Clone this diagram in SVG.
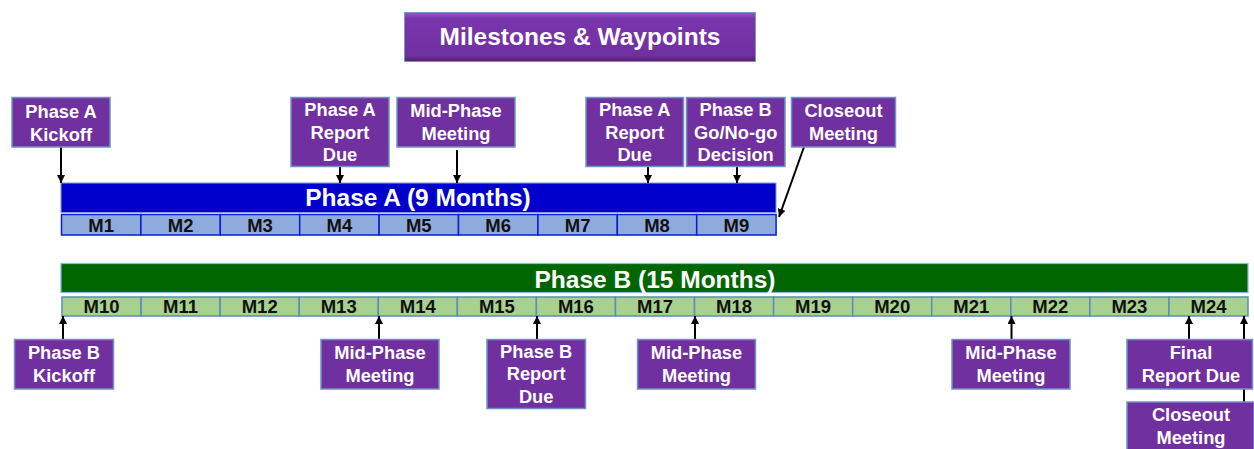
<svg xmlns="http://www.w3.org/2000/svg" width="1254" height="449" viewBox="0 0 1254 449">
<style>
.box{fill:#7030A0;stroke:#6F93C6;stroke-width:1.5}
.bt{font-family:"Liberation Sans",Arial,sans-serif;font-weight:bold;font-size:18.3px;fill:#fff;text-anchor:middle}
.mt{font-family:"Liberation Sans",Arial,sans-serif;font-weight:bold;font-size:18.5px;fill:#111;text-anchor:middle}
.pt{font-family:"Liberation Sans",Arial,sans-serif;font-weight:bold;font-size:24.5px;fill:#fff;text-anchor:middle}
.ma{fill:#8FAADC;stroke:#0A1ECC;stroke-width:1.5}
.mb{fill:#A9D18E;stroke:#5B8DB8;stroke-width:1.5}
.con{stroke:#000;stroke-width:2;fill:none;marker-end:url(#ah)}
</style>
<defs>
<marker id="ah" viewBox="0 0 10 10" refX="10" refY="5" markerWidth="8" markerHeight="8" markerUnits="userSpaceOnUse" orient="auto">
<path d="M0,0 L10,5 L0,10 z" fill="#000"/>
</marker>
<linearGradient id="tg" x1="0" y1="0" x2="0" y2="1">
<stop offset="0" stop-color="#9A55CC"/>
<stop offset="0.12" stop-color="#7A36AE"/>
<stop offset="0.88" stop-color="#7030A0"/>
<stop offset="1" stop-color="#4E2070"/>
</linearGradient>
</defs>
<rect width="1254" height="449" fill="#fff"/>

<g id="title">
<rect x="404.5" y="12.5" width="351" height="49" fill="url(#tg)" stroke="#7F95B8" stroke-width="1"/>
<text x="580" y="45" class="pt">Milestones &amp; Waypoints</text>
</g>

<g id="phaseA">
<rect x="61" y="183" width="715" height="29.5" fill="#0000CC" stroke="#7F9CE0" stroke-width="1"/>
<text x="418" y="206" class="pt">Phase A (9 Months)</text>
<rect class="ma" x="61.5" y="214.5" width="79.4" height="20.5"/>
<rect class="ma" x="140.9" y="214.5" width="79.4" height="20.5"/>
<rect class="ma" x="220.3" y="214.5" width="79.4" height="20.5"/>
<rect class="ma" x="299.7" y="214.5" width="79.4" height="20.5"/>
<rect class="ma" x="379.1" y="214.5" width="79.4" height="20.5"/>
<rect class="ma" x="458.5" y="214.5" width="79.4" height="20.5"/>
<rect class="ma" x="537.9" y="214.5" width="79.4" height="20.5"/>
<rect class="ma" x="617.3" y="214.5" width="79.4" height="20.5"/>
<rect class="ma" x="696.7" y="214.5" width="79.4" height="20.5"/>
<text class="mt" y="232"><tspan x="101.2">M1</tspan><tspan x="180.6">M2</tspan><tspan x="260">M3</tspan><tspan x="339.4">M4</tspan><tspan x="418.8">M5</tspan><tspan x="498.2">M6</tspan><tspan x="577.6">M7</tspan><tspan x="657">M8</tspan><tspan x="736.4">M9</tspan></text>
</g>

<g id="phaseB">
<rect x="61" y="263.5" width="1187" height="29" fill="#006600" stroke="#8EB4E3" stroke-width="1.2"/>
<text x="655" y="288" class="pt">Phase B (15 Months)</text>
<rect class="mb" x="62" y="297" width="79.07" height="19"/>
<rect class="mb" x="141.07" y="297" width="79.07" height="19"/>
<rect class="mb" x="220.13" y="297" width="79.07" height="19"/>
<rect class="mb" x="299.2" y="297" width="79.07" height="19"/>
<rect class="mb" x="378.27" y="297" width="79.07" height="19"/>
<rect class="mb" x="457.33" y="297" width="79.07" height="19"/>
<rect class="mb" x="536.4" y="297" width="79.07" height="19"/>
<rect class="mb" x="615.47" y="297" width="79.07" height="19"/>
<rect class="mb" x="694.53" y="297" width="79.07" height="19"/>
<rect class="mb" x="773.6" y="297" width="79.07" height="19"/>
<rect class="mb" x="852.67" y="297" width="79.07" height="19"/>
<rect class="mb" x="931.73" y="297" width="79.07" height="19"/>
<rect class="mb" x="1010.8" y="297" width="79.07" height="19"/>
<rect class="mb" x="1089.87" y="297" width="79.07" height="19"/>
<rect class="mb" x="1168.93" y="297" width="79.07" height="19"/>
<text class="mt" y="313"><tspan x="101.5">M10</tspan><tspan x="180.6">M11</tspan><tspan x="259.7">M12</tspan><tspan x="338.7">M13</tspan><tspan x="417.8">M14</tspan><tspan x="496.9">M15</tspan><tspan x="575.9">M16</tspan><tspan x="655">M17</tspan><tspan x="734.1">M18</tspan><tspan x="813.1">M19</tspan><tspan x="892.2">M20</tspan><tspan x="971.3">M21</tspan><tspan x="1050.3">M22</tspan><tspan x="1129.4">M23</tspan><tspan x="1208.5">M24</tspan></text>
</g>

<g id="connectors">
<line class="con" x1="61" y1="147" x2="61" y2="183"/>
<line class="con" x1="340" y1="167" x2="340" y2="183"/>
<line class="con" x1="457" y1="150" x2="457" y2="183"/>
<line class="con" x1="648" y1="167" x2="648" y2="183"/>
<line class="con" x1="737" y1="167" x2="737" y2="183"/>
<line class="con" x1="804" y1="147" x2="779" y2="217"/>
<line class="con" x1="63" y1="339" x2="63" y2="316"/>
<line class="con" x1="379" y1="339" x2="379" y2="316"/>
<line class="con" x1="537" y1="339" x2="537" y2="316"/>
<line class="con" x1="695" y1="339" x2="695" y2="316"/>
<line class="con" x1="1011.5" y1="339" x2="1011.5" y2="316"/>
<line class="con" x1="1189" y1="339" x2="1189" y2="316"/>
<line class="con" x1="1244" y1="402" x2="1244" y2="316"/>
</g>

<g id="n-a-kickoff">
<rect class="box" x="12" y="97.5" width="98" height="49.5"/>
<text class="bt"><tspan x="61" y="118">Phase A</tspan><tspan x="61" y="141">Kickoff</tspan></text>
</g>
<g id="n-a-report1">
<rect class="box" x="291" y="97.5" width="98" height="69"/>
<text class="bt"><tspan x="340" y="116">Phase A</tspan><tspan x="340" y="139">Report</tspan><tspan x="340" y="161">Due</tspan></text>
</g>
<g id="n-a-mid">
<rect class="box" x="397" y="97.5" width="118" height="49.5"/>
<text class="bt"><tspan x="456" y="117">Mid-Phase</tspan><tspan x="456" y="140">Meeting</tspan></text>
</g>
<g id="n-a-report2">
<rect class="box" x="586" y="97.5" width="97.5" height="69"/>
<text class="bt"><tspan x="634.7" y="116">Phase A</tspan><tspan x="634.7" y="139">Report</tspan><tspan x="634.7" y="161">Due</tspan></text>
</g>
<g id="n-b-gonogo">
<rect class="box" x="686.5" y="97.5" width="98.5" height="69"/>
<text class="bt"><tspan x="735.7" y="116">Phase B</tspan><tspan x="735.7" y="139">Go/No-go</tspan><tspan x="735.7" y="161">Decision</tspan></text>
</g>
<g id="n-a-closeout">
<rect class="box" x="791.5" y="97.5" width="104" height="49.5"/>
<text class="bt"><tspan x="843.5" y="117">Closeout</tspan><tspan x="843.5" y="140">Meeting</tspan></text>
</g>

<g id="n-b-kickoff">
<rect class="box" x="14.5" y="339.5" width="99" height="49.5"/>
<text class="bt"><tspan x="64" y="359">Phase B</tspan><tspan x="64" y="382">Kickoff</tspan></text>
</g>
<g id="n-b-mid1">
<rect class="box" x="321" y="339.5" width="118" height="49.5"/>
<text class="bt"><tspan x="380" y="359">Mid-Phase</tspan><tspan x="380" y="382">Meeting</tspan></text>
</g>
<g id="n-b-report">
<rect class="box" x="487" y="339.5" width="98.5" height="69"/>
<text class="bt"><tspan x="536.2" y="358">Phase B</tspan><tspan x="536.2" y="380">Report</tspan><tspan x="536.2" y="403">Due</tspan></text>
</g>
<g id="n-b-mid2">
<rect class="box" x="637.5" y="339.5" width="118" height="49.5"/>
<text class="bt"><tspan x="696.5" y="359">Mid-Phase</tspan><tspan x="696.5" y="382">Meeting</tspan></text>
</g>
<g id="n-b-mid3">
<rect class="box" x="952" y="339.5" width="118" height="49.5"/>
<text class="bt"><tspan x="1011" y="359">Mid-Phase</tspan><tspan x="1011" y="382">Meeting</tspan></text>
</g>
<g id="n-b-final">
<rect class="box" x="1127" y="339.5" width="125.5" height="49.5"/>
<text class="bt"><tspan x="1191" y="359">Final</tspan><tspan x="1191" y="382">Report Due</tspan></text>
</g>
<g id="n-b-closeout">
<rect class="box" x="1127" y="402" width="127" height="60"/>
<text class="bt"><tspan x="1191" y="421">Closeout</tspan><tspan x="1191" y="444">Meeting</tspan></text>
</g>
</svg>
